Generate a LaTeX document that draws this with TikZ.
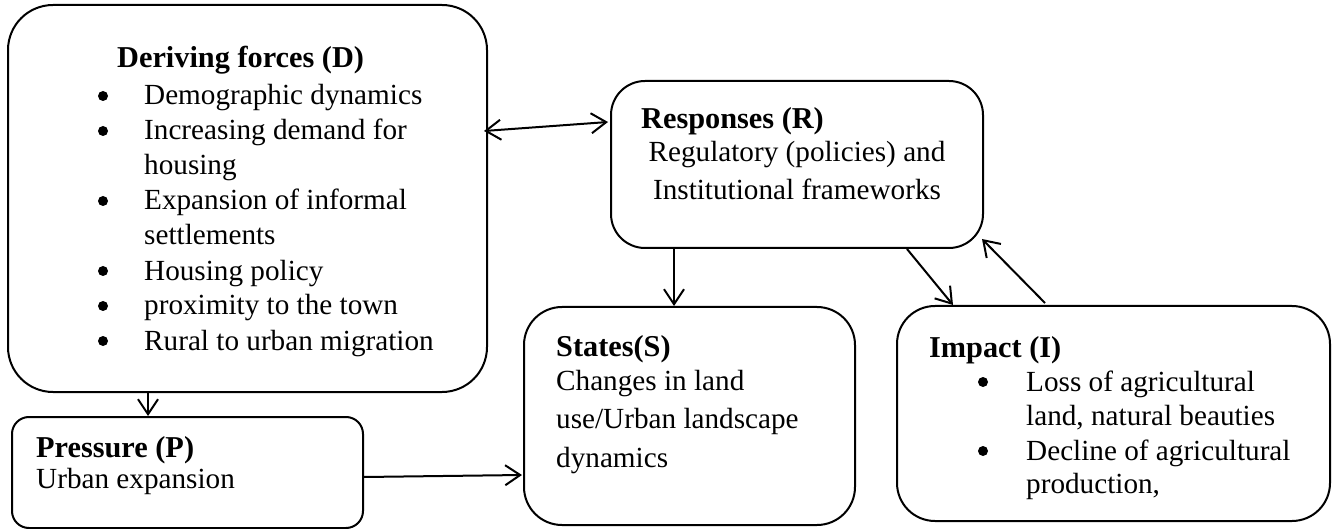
\documentclass[tikz,border=0pt]{standalone}
\usepackage{fontspec}
\setmainfont{Liberation Serif}
\usetikzlibrary{arrows.meta}
\begin{document}
\begin{tikzpicture}[x=1pt,y=-1pt,
  box/.style={draw,line width=2pt,inner sep=0pt},
  txt/.style={anchor=base west,inner sep=0pt,font=\fontsize{29.2}{35}\selectfont},
  ctxt/.style={anchor=base,inner sep=0pt,font=\fontsize{29.2}{35}\selectfont},
  ttl/.style={anchor=base west,inner sep=0pt,font=\fontsize{30.3}{35}\selectfont\bfseries},
  bul/.style={circle,fill,inner sep=0pt,minimum size=10pt},
  arr/.style={line width=2pt,-{Straight Barb[length=15pt,width=20pt,line width=2pt]}},
  darr/.style={line width=2pt,{Straight Barb[length=15pt,width=20pt,line width=2pt]}-{Straight Barb[length=15pt,width=20pt,line width=2pt]}}]
\useasboundingbox (0,0) rectangle (1333,529);

% boxes
\node[box,rounded corners=45pt,minimum width=479pt,minimum height=387pt] (D) at (247.5,198.5) {};
\node[box,rounded corners=34pt,minimum width=372pt,minimum height=167pt] (R) at (797,164.5) {};
\node[box,rounded corners=38pt,minimum width=331pt,minimum height=218pt] (S) at (689.5,416) {};
\node[box,rounded corners=38pt,minimum width=433pt,minimum height=215pt] (I) at (1113.5,413.5) {};
\node[box,rounded corners=17pt,minimum width=351pt,minimum height=111pt] (P) at (187.5,472.5) {};

% Deriving forces
\node[ttl] (dt) at (117,68) {Deriving forces (D)};
\node[bul] (db1) at (103,96) {};
\node[txt] (d1) at (144,105) {Demographic dynamics};
\node[bul] (db2) at (103,131) {};
\node[txt] (d2) at (144,140) {Increasing demand for};
\node[txt] (d3) at (144,175) {housing};
\node[bul] (db3) at (103,201) {};
\node[txt] (d4) at (144,210) {Expansion of informal};
\node[txt] (d5) at (144,245) {settlements};
\node[bul] (db4) at (103,271) {};
\node[txt] (d6) at (144,280) {Housing policy};
\node[bul] (db5) at (103,306) {};
\node[txt] (d7) at (144,315) {proximity to the town};
\node[bul] (db6) at (103,341) {};
\node[txt] (d8) at (144,350) {Rural to urban migration};

% Responses
\node[ttl] (rt) at (641,129) {Responses (R)};
\node[ctxt] (r1) at (797,162) {Regulatory (policies) and};
\node[ctxt] (r2) at (797,200) {Institutional frameworks};

% States
\node[ttl] (st) at (556,356) {States(S)};
\node[txt] (s1) at (556,390) {Changes in land};
\node[txt] (s2) at (556,428) {use/Urban landscape};
\node[txt] (s3) at (556,467) {dynamics};

% Pressure
\node[ttl] (pt) at (36,457) {Pressure (P)};
\node[txt] (p1) at (36,488) {Urban expansion};

% Impact
\node[ttl] (it) at (929,357) {Impact (I)};
\node[bul] (ib1) at (983,382) {};
\node[txt] (i1) at (1026,391) {Loss of agricultural};
\node[txt] (i2) at (1026,425) {land, natural beauties};
\node[bul] (ib2) at (983,451) {};
\node[txt] (i3) at (1026,460) {Decline of agricultural};
\node[txt] (i4) at (1026,493) {production,};

% connectors
\coordinate (rc) at ([xshift=-2pt,yshift=10pt]R.south east);
\draw[darr] ([xshift=-4pt,yshift=67.5pt]D.east) -- ([xshift=-2pt,yshift=42.5pt]R.west);
\draw[arr] ([xshift=-99.5pt]D.south) -- ([xshift=-39.5pt]P.north);
\draw[arr] ([yshift=-4.5pt]P.east) -- ([xshift=-1pt,yshift=-59pt]S.west);
\draw[arr] ([xshift=-123pt]R.south) -- ([xshift=-15.5pt]S.north);
\draw[arr] ([xshift=110pt]R.south) -- ([xshift=-160.5pt]I.north);
\draw[arr] ([xshift=-68.5pt,yshift=2pt]I.north) -- (rc);
\end{tikzpicture}
\end{document}
